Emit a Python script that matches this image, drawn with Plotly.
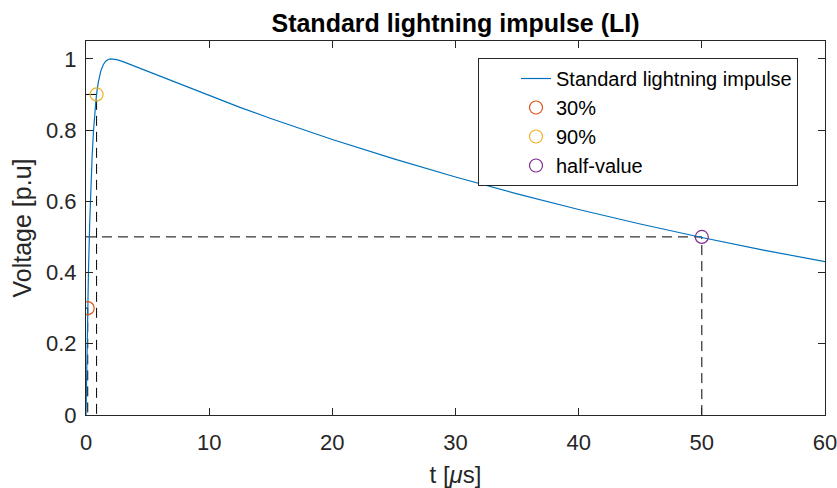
import plotly.graph_objects as go

# ---- data ----
t_us = [0, 0.05, 0.1, 0.15, 0.2, 0.3, 0.4, 0.5, 0.6, 0.7, 0.8, 0.9, 1.0, 1.2, 1.4,
        1.6, 1.8, 2.0, 2.2, 2.5, 3.0, 3.5, 4, 5, 6, 8, 10, 12.5, 15, 20, 25, 30,
        35, 40, 45, 50, 55, 60]
v_pu = [0, 0.1197, 0.2254, 0.3188, 0.4012, 0.5382, 0.6449, 0.7279, 0.7924, 0.8425,
        0.8813, 0.9113, 0.9344, 0.9656, 0.9835, 0.9932, 0.9981, 0.9998, 0.9998,
        0.9978, 0.9920, 0.9852, 0.9781, 0.9639, 0.9499, 0.9225, 0.8958, 0.8636,
        0.8325, 0.7736, 0.7189, 0.6681, 0.6209, 0.5770, 0.5362, 0.4983, 0.4631,
        0.4303]

mark_names = ["30%", "90%", "half-value"]
mark_t = [0.14, 0.86, 50]
mark_v = [0.3, 0.9, 0.5]
mark_colors = ["#D95319", "#EDB120", "#7E2F8E"]

x_ticks = [0, 10, 20, 30, 40, 50, 60]
y_ticks = [0, 0.2, 0.4, 0.6, 0.8, 1]
y_tick_text = ["0", "0.2", "0.4", "0.6", "0.8", "1"]

FONT = "Liberation Sans, Arial, Helvetica, sans-serif"
AX = "#262626"

W, H = 837, 488

fig = go.Figure()

# dashed guide lines (from axis to each marker)
for tm, vm in zip(mark_t, mark_v):
    fig.add_trace(go.Scatter(
        x=[0, tm, tm], y=[vm, vm, 0], mode="lines",
        line=dict(color="black", width=1, dash="10px,6px"),
        showlegend=False, hoverinfo="skip"))

fig.add_trace(go.Scatter(
    x=t_us, y=v_pu, mode="lines", name="Standard lightning impulse",
    line=dict(color="#0072BD", width=1.2)))

for nm, tm, vm, c in zip(mark_names, mark_t, mark_v, mark_colors):
    fig.add_trace(go.Scatter(
        x=[tm], y=[vm], mode="markers", name=nm,
        marker=dict(symbol="circle-open", size=13, color=c, line=dict(width=1.2, color=c))))

axis_common = dict(
    showline=True, linecolor=AX, linewidth=1, mirror="ticks",
    ticks="inside", ticklen=7, tickcolor=AX, tickwidth=1,
    showgrid=False, zeroline=False, automargin=False,
    ticklabeloverflow="allow",
    tickfont=dict(family=FONT, size=22, color=AX),
)

fig.update_layout(
    width=W, height=H,
    margin=dict(l=86, r=12, t=41, b=73),
    paper_bgcolor="white", plot_bgcolor="white",
    font=dict(family=FONT, color=AX),
    title=dict(text="<b>Standard lightning impulse (LI)</b>",
               font=dict(family=FONT, size=25, color="black"),
               x=0.5, xref="paper", xanchor="center",
               y=1 - 23 / H, yref="container", yanchor="middle", automargin=False),
    xaxis=dict(range=[0, 60], tickvals=x_ticks, ticklabelstandoff=8,
               title=dict(text="t [<i>μ</i>s]", standoff=16,
                          font=dict(family=FONT, size=24, color=AX)),
               **axis_common),
    yaxis=dict(range=[0, 1.05], tickvals=y_ticks, ticktext=y_tick_text, ticklabelstandoff=4,
               title=dict(text="Voltage [p.u]", standoff=7,
                          font=dict(family=FONT, size=25, color=AX)),
               **axis_common),
    legend=dict(x=(478 - 86) / 739, y=(415 - 58) / 374, xanchor="left", yanchor="top",
                bgcolor="white", bordercolor=AX, borderwidth=1, indentation=37,
                font=dict(family=FONT, size=20, color="black"),
                tracegroupgap=0),
)

# remove the default 8px page margin so the figure fills the window exactly
fig.write_html("out.html",
               config={"displayModeBar": False},
               post_script="document.body.style.margin='0';document.body.style.overflow='hidden';")
